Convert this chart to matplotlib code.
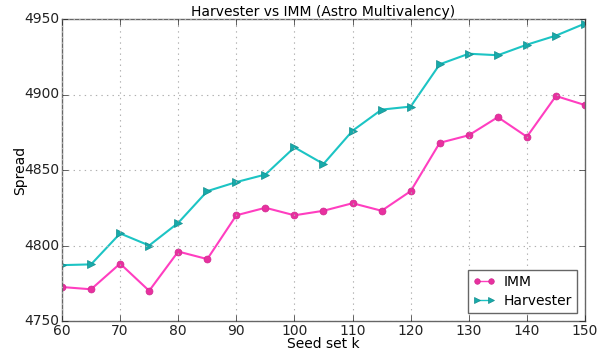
import matplotlib
matplotlib.use('Agg')
import matplotlib.pyplot as plt

# seed set sizes and spread results
seed_k = [60, 65, 70, 75, 80, 85, 90, 95, 100, 105, 110, 115, 120, 125, 130, 135, 140, 145, 150]
imm_spread = [4772.5, 4771, 4788, 4770, 4796, 4791, 4820, 4825, 4820, 4823, 4828, 4823,
              4836, 4868, 4873, 4885, 4872, 4899, 4893]
harvester_spread = [4787, 4787.5, 4808, 4800, 4815, 4836, 4842, 4847, 4865, 4854, 4876, 4890,
                    4892, 4920, 4927, 4926, 4933, 4939, 4947]

plt.style.use('classic')
plt.rcParams['font.family'] = 'DejaVu Sans'

fig = plt.figure(figsize=(6.05, 3.54), dpi=100, facecolor='white')
ax = fig.add_axes([62 / 605, 1 - 321 / 354, 523 / 605, 302 / 354])

ax.plot(seed_k, imm_spread, color='#ff3ec0', marker='o', markersize=5,
        markerfacecolor='#e8309f', markeredgecolor='#d02a90', linewidth=1.5, label='IMM')
ax.plot(seed_k, harvester_spread, color='#1cc4c4', marker='>', markersize=6,
        markerfacecolor='#17aaaa', markeredgecolor='#148f8f', linewidth=1.5, label='Harvester')

ax.set_xlim(60, 150)
ax.set_ylim(4750, 4950)
ax.set_xticks(range(60, 151, 10))
ax.set_yticks(range(4750, 4951, 50))
ax.tick_params(labelsize=10, colors='#222222', pad=2)
ax.grid(True, color='#b0b0b0', linestyle=':', linewidth=0.8)
for s in ax.spines.values():
    s.set_color('#666666')

ax.set_title('Harvester vs IMM (Astro Multivalency)', fontsize=10, pad=2.5)
ax.set_xlabel('Seed set k', fontsize=10)
ax.set_ylabel('Spread', fontsize=10)
ax.xaxis.set_label_coords(0.5, -0.053)
ax.yaxis.set_label_coords(-0.066, 0.5)

leg = ax.legend(loc='lower right', numpoints=2, fontsize=10, fancybox=False,
                handlelength=1.6, markerscale=0.8, borderpad=0.35, labelspacing=0.35,
                handletextpad=0.6, borderaxespad=0.6)
leg.get_frame().set_edgecolor('#666666')
for line in leg.get_lines():
    line.set_linewidth(1.0)

fig.savefig('out.png', dpi=100, facecolor='white')
